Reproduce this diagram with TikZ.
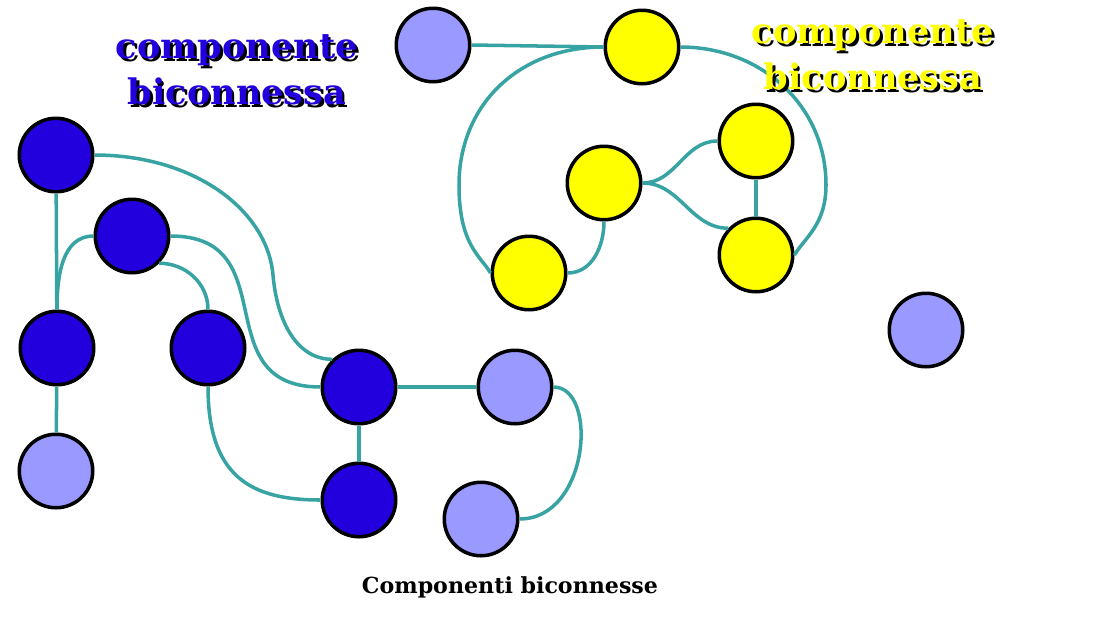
\documentclass[tikz,border=0pt]{standalone}
\usepackage{fontspec}
\setmainfont{DejaVu Serif}
\definecolor{dblue}{HTML}{2200DD}
\definecolor{lblue}{HTML}{9999FF}
\definecolor{yell}{HTML}{FFFF00}
\definecolor{tealline}{HTML}{38A3A3}
\tikzset{vertex/.style={circle, draw=black, line width=2pt, minimum size=1.47cm, inner sep=0pt},
  dark/.style={vertex, fill=dblue}, light/.style={vertex, fill=lblue}, yellow/.style={vertex, fill=yell},
  edge/.style={draw=tealline, line width=2pt},
  big/.style={font=\fontsize{20}{26}\selectfont\bfseries, align=center}}
\begin{document}
\begin{tikzpicture}[x=0.02cm, y=-0.02cm]
\useasboundingbox (0,0) rectangle (1109,640);
\node[dark] (1) at (56,155) {};
\node[dark] (2) at (132,236) {};
\node[dark] (3) at (57,348) {};
\node[dark] (4) at (208,348) {};
\node[dark] (5) at (359,387) {};
\node[dark] (6) at (359,500) {};
\node[light] (7) at (56,471) {};
\node[light] (8) at (515,387) {};
\node[light] (9) at (481,519) {};
\node[light] (10) at (433,45) {};
\node[yellow] (11) at (642,47) {};
\node[yellow] (12) at (756,141) {};
\node[yellow] (13) at (604,183) {};
\node[yellow] (14) at (529,273) {};
\node[yellow] (15) at (756,255) {};
\node[light] (16) at (926,330) {};
\draw[edge] (1) -- (3);
\draw[edge] (3) -- (7);
\draw[edge] (1.east) to[out=0, in=95, out distance=2cm, in distance=1.3cm] (273,275)
  to[out=-85, in=180, out distance=0.95cm, in distance=0.7cm] (5.134);
\draw[edge] (2.east) to[out=0, in=180, looseness=1.4] (5.west);
\draw[edge] (2.-45) to[out=0, in=90] (4.north);
\draw[edge] (2.west) to[out=180, in=90] (3.north);
\draw[edge] (4.south) to[out=-90, in=180, out distance=1.8cm, in distance=1.4cm] (6.west);
\draw[edge] (5) -- (6);
\draw[edge] (5) -- (8);
\draw[edge] (8.east) to[out=0, in=0, out distance=0.9cm, in distance=1.4cm] (9.east);
\draw[edge] (10.east) -- (11.west);
\draw[edge] (11.west) to[out=180, in=90, out distance=1.7cm, in distance=1.6cm] (459,185)
  to[out=-90, in=120, out distance=1.2cm, in distance=0.4cm] (14.west);
\draw[edge] (11.east) to[out=0, in=90, distance=1.6cm] (826,185)
  to[out=-90, in=60, out distance=0.8cm, in distance=0.4cm] (15.east);
\draw[edge] (13.east) to[out=0, in=180] (12.west);
\draw[edge] (13.east) to[out=0, in=180] (15.136);
\draw[edge] (12) -- (15);
\draw[edge] (13.south) to[out=-90, in=0] (14.east);
\node[big, text=black] (bs) at (239.5,72.5) {componente\\biconnessa};
\node[big, text=dblue] (b) at (237,70) {componente\\biconnessa};
\node[big, text=black] (ys) at (875.5,57.5) {componente\\biconnessa};
\node[big, text=yell] (y) at (873,55) {componente\\biconnessa};
\node[font=\fontsize{12.6}{15}\selectfont\bfseries] (cap) at (510,587) {Componenti biconnesse};
\end{tikzpicture}
\end{document}
